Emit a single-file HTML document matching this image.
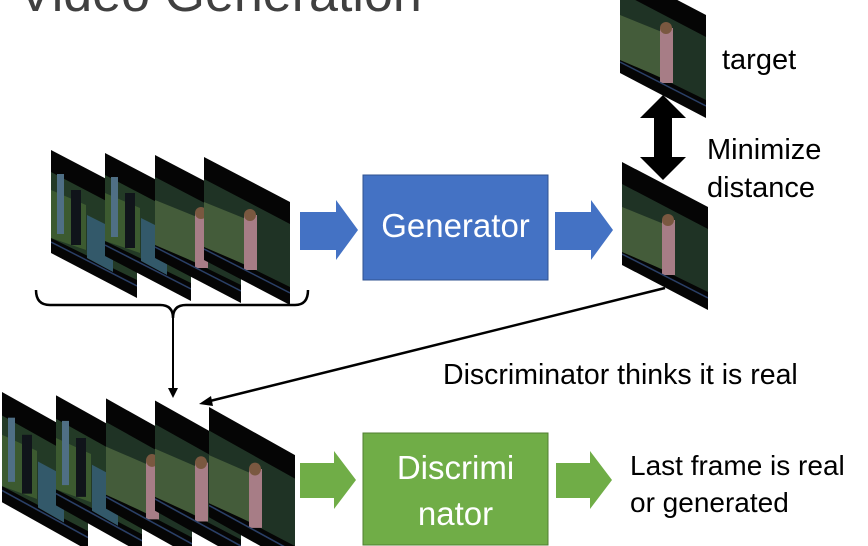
<!DOCTYPE html>
<html><head><meta charset="utf-8"><style>
html,body{margin:0;padding:0;background:#fff;}
body{width:868px;height:546px;overflow:hidden;position:relative;font-family:"Liberation Sans",sans-serif;}
.t{position:absolute;color:#000;white-space:nowrap;}
</style></head><body>
<svg width="868" height="546" style="position:absolute;left:0;top:0">
<defs>
<clipPath id="cp"><polygon points="0,0 86,45 86,148 0,103"/></clipPath>
<g id="fa"><g clip-path="url(#cp)">
<rect width="86" height="148" fill="#050505"/>
<polygon points="0,22 86,67 86,130 0,88" fill="#233a26"/>
<polygon points="0,40 35,55 35,100 0,88" fill="#3c5a30"/>
<rect x="6" y="24" width="7" height="60" fill="#4f6f85"/>
<rect x="20" y="40" width="10" height="55" fill="#10141a"/>
<polygon points="36,65 62,78 62,122 36,108" fill="#33596a"/>
<line x1="0" y1="92" x2="86" y2="136" stroke="#2a3f66" stroke-width="1.5"/>
</g></g>
<g id="fb"><g clip-path="url(#cp)">
<rect width="86" height="148" fill="#050505"/>
<polygon points="0,22 86,67 86,130 0,88" fill="#1f3325"/>
<polygon points="0,45 42,62 42,108 0,90" fill="#445c3a"/>
<rect x="40" y="58" width="13" height="55" fill="#a77d86"/>
<circle cx="46" cy="58" r="6" fill="#7a5840"/>
<line x1="0" y1="92" x2="86" y2="136" stroke="#2a3f66" stroke-width="1.5"/>
</g></g>
</defs>
<use href="#fa" x="51" y="150"/>
<use href="#fa" x="105" y="153"/>
<use href="#fb" x="155" y="155"/>
<use href="#fb" x="204" y="157"/>
<use href="#fb" x="620" y="-30"/>
<use href="#fb" x="622" y="162"/>
<g transform="translate(0,392) scale(1,1.07)">
<use href="#fa" x="2" y="0"/>
<use href="#fa" x="56" y="3"/>
<use href="#fb" x="106" y="6"/>
<use href="#fb" x="155" y="8"/>
<use href="#fb" x="209" y="14"/>
</g>
<polygon points="300,212 336,212 336,200 358,230 336,260 336,250 300,250" fill="#4472c4"/>
<polygon points="555,212 591,212 591,200 613,230 591,260 591,250 555,250" fill="#4472c4"/>
<rect x="363" y="175" width="185" height="105" fill="#4472c4" stroke="#2f528f" stroke-width="1"/>
<polygon points="663,95 686,118 672,118 672,157 686,157 663,180 640,157 654,157 654,118 640,118" fill="#000"/>
<path d="M36,290 Q36,305 50,305 L160,305 Q173,305 173,318 Q173,305 186,305 L295,305 Q308,305 308,290" fill="none" stroke="#000" stroke-width="2.5"/>
<line x1="173" y1="318" x2="173" y2="390" stroke="#000" stroke-width="2"/>
<polygon points="168,388 178,388 173,398" fill="#000"/>
<line x1="665" y1="288" x2="210" y2="401" stroke="#000" stroke-width="2.5"/>
<polygon points="199,404 211,396 213,406" fill="#000"/>
<polygon points="300,463 334,463 334,451 356,480 334,509 334,498 300,498" fill="#70ad47"/>
<polygon points="556,463 590,463 590,451 612,480 590,509 590,498 556,498" fill="#70ad47"/>
<rect x="363" y="433" width="185" height="112" fill="#70ad47" stroke="#507e32" stroke-width="1"/>
</svg>
<div class="t" style="left:18px;top:-36px;font-size:52px;color:#404040">Video Generation</div>
<div class="t" style="left:363px;top:207px;width:185px;text-align:center;font-size:33px;color:#fff">Generator</div>
<div class="t" style="left:363px;top:445px;width:185px;text-align:center;font-size:33px;line-height:46px;color:#fff">Discrimi<br>nator</div>
<div class="t" style="left:722px;top:44px;font-size:29px">target</div>
<div class="t" style="left:707px;top:131px;font-size:29px;line-height:38px">Minimize<br>distance</div>
<div class="t" style="left:443px;top:359px;font-size:28.5px">Discriminator thinks it is real</div>
<div class="t" style="left:630px;top:447px;font-size:28px;line-height:37px">Last frame is real<br>or generated</div>
</body></html>
